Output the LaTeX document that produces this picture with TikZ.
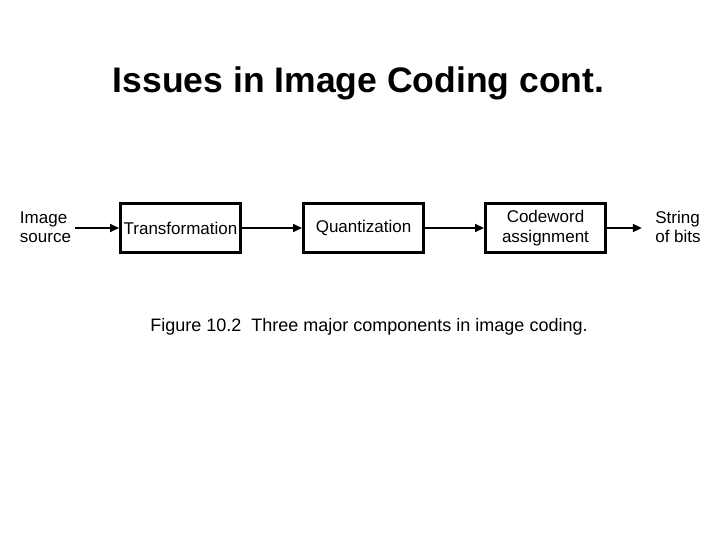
\documentclass[tikz,border=0pt]{standalone}
\usepackage{fontspec}
\setmainfont{Liberation Sans}
\usetikzlibrary{positioning,arrows.meta}

\begin{document}
\begin{tikzpicture}[x=1pt, y=-1pt,
      blk/.style={draw, line width=3pt, minimum height=48pt, inner sep=0pt},
      wideblk/.style={minimum width=120pt},
      lbl/.style={align=left, font=\fontsize{17}{19.5}\selectfont},
      flow/.style={line width=2pt, -{Triangle[length=9pt, width=8pt]}},
      every node/.style={align=center, font=\fontsize{17}{19.5}\selectfont}]
    \useasboundingbox (0,0) rectangle (720,540);
    \node[font=\fontsize{35.5}{40}\bfseries] (title) at (358.5,83) {Issues in Image Coding cont.};

    \node[blk, wideblk] (tr) at (180.5,228) {Transformation};
    \node[blk, wideblk, right=60pt of tr] (qz) {Quantization};
    \node[blk, wideblk, right=59pt of qz] (cw) {Codeword\\assignment};
    \node[lbl] (src) at (45.5,227) {Image\\source};
    \node[lbl] (bits) at (678,227) {String\\of bits};

    \draw[flow] (src.east |- tr.west) -- (tr.west);
    \draw[flow] (tr) -- (qz);
    \draw[flow] (qz) -- (cw);
    \draw[flow, shorten >=10pt] (cw.east) -- (cw.east -| bits.west);

    \node[font=\fontsize{18}{22}\selectfont] (cap) at (369,327) {Figure 10.2\ \ Three major components in image coding.};
  \end{tikzpicture}
\end{document}
